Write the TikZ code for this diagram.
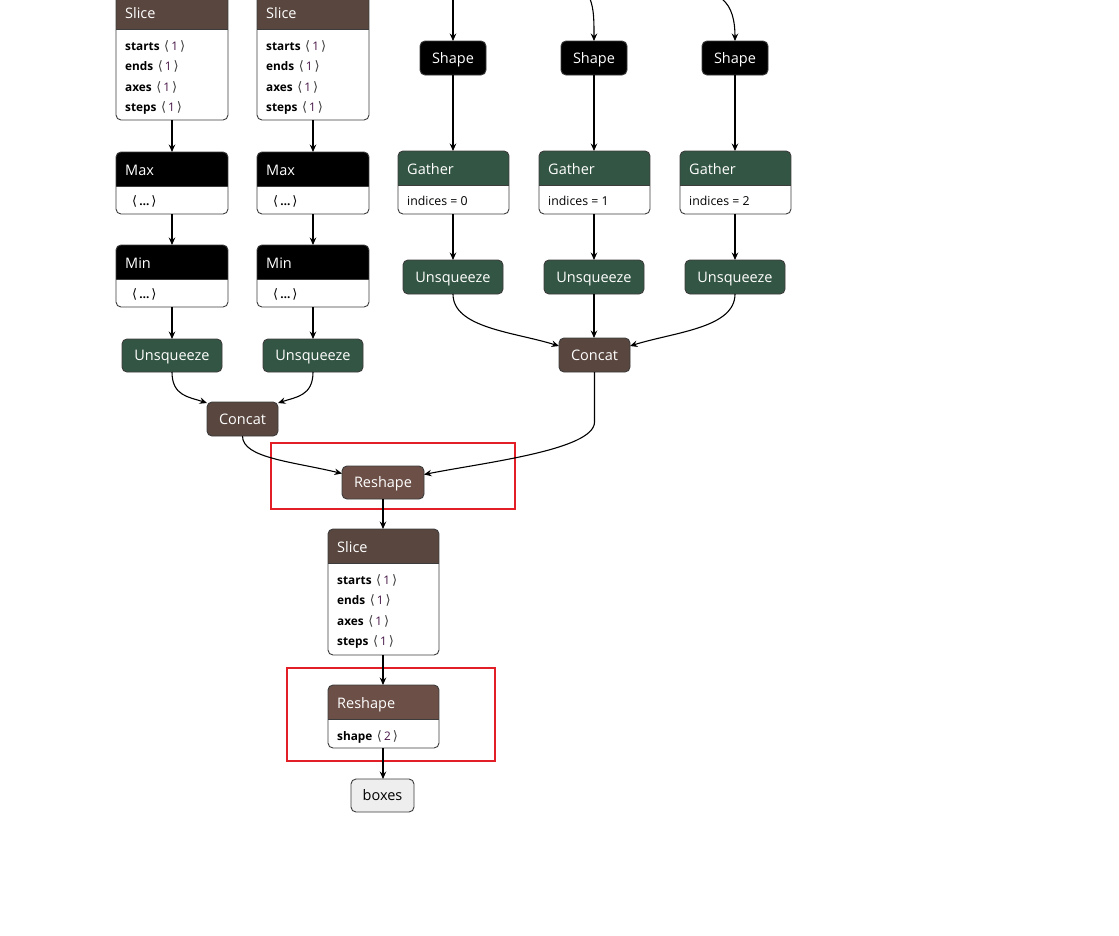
\documentclass[tikz,border=0pt]{standalone}
\usepackage{fontspec}
\setmainfont{Open Sans}
\newfontfamily\symf{DejaVu Sans}
\usetikzlibrary{arrows.meta,calc}
\definecolor{brownA}{RGB}{89,70,63}
\definecolor{brownB}{RGB}{108,79,71}
\definecolor{greenA}{RGB}{51,85,68}
\definecolor{frameC}{RGB}{60,60,60}
\definecolor{redbox}{RGB}{226,30,38}
\definecolor{valc}{RGB}{70,20,70}
\definecolor{boxesfill}{RGB}{238,238,238}
\tikzset{
  opframe/.style={fill=white,draw=none,inner sep=0pt,outer sep=0pt},
  opborder/.style={draw=frameC,line width=0.9pt,rounded corners=5pt},
  optitle/.style={anchor=base west,inner sep=0pt,text=white,font=\fontsize{14.5}{16}\selectfont},
  attr/.style={anchor=base west,inner sep=0pt,font=\fontsize{11.8}{13}\selectfont},
  simple/.style={draw=frameC,line width=0.9pt,rounded corners=5pt,inner sep=0pt,outer sep=0pt,text=white,font=\fontsize{14.5}{16}\selectfont,text height=10.4pt,text depth=0pt},
  conn/.style={draw=black,line width=1.1pt,-{Stealth[length=7.5pt,width=6.5pt,inset=2.5pt]}},
  hilite/.style={draw=redbox,line width=1.5pt}
}
\newcommand\mkop[8]{%
  \node[opframe, minimum width=#4, minimum height=#5] (#1) at (#2,#3) {};
  \begin{scope}
    \clip[rounded corners=5pt] (#1.north west) rectangle (#1.south east);
    \fill[#7] (#1.north west) rectangle ($(#1.north east)+(0,#6)$);
  \end{scope}
  \draw[frameC, line width=0.8pt] ($(#1.north west)+(0,#6)$) -- ($(#1.north east)+(0,#6)$);
  \draw[opborder] (#1.north west) rectangle (#1.south east);
  \node[optitle] at ($(#1.north west)+(9,23.5)$) {#8};
}
\newcommand\va[1]{\hspace{1.5pt}{\symf\fontsize{13}{13}\selectfont\color{frameC}⟨}\hspace{2pt}{\color{valc}#1}\hspace{2pt}{\symf\fontsize{13}{13}\selectfont\color{frameC}⟩}}
\newcommand\slicerows[1]{%
  \node[attr] at ($(#1.north west)+(9,55)$) {\textbf{starts} \va{1}};
  \node[attr] at ($(#1.north west)+(9,75.5)$) {\textbf{ends} \va{1}};
  \node[attr] at ($(#1.north west)+(9,96)$) {\textbf{axes} \va{1}};
  \node[attr] at ($(#1.north west)+(9,116.5)$) {\textbf{steps} \va{1}};
}
\newcommand\dotsrow[1]{\node[attr] at ($(#1.north west)+(16,53)$) {{\symf\fontsize{13}{13}\selectfont ⟨}\hspace{2pt}\textbf{…}\hspace{2pt}{\symf\fontsize{13}{13}\selectfont ⟩}};}
\begin{document}
\begin{tikzpicture}[x=1pt,y=-1pt]
\useasboundingbox[fill=white] (0,0) rectangle (1119,935);

% left two columns
\mkop{sliceA}{172}{57.5}{112}{125}{34}{brownA}{Slice}
\slicerows{sliceA}
\mkop{sliceB}{313}{57.5}{112}{125}{34}{brownA}{Slice}
\slicerows{sliceB}
\mkop{maxA}{172}{183}{112}{62}{34}{black}{Max}
\dotsrow{maxA}
\mkop{maxB}{313}{183}{112}{62}{34}{black}{Max}
\dotsrow{maxB}
\mkop{minA}{172}{276}{112}{62}{34}{black}{Min}
\dotsrow{minA}
\mkop{minB}{313}{276}{112}{62}{34}{black}{Min}
\dotsrow{minB}
\node[simple,fill=greenA,minimum width=100,minimum height=33] (unsqA) at (172,355.5) {Unsqueeze};
\node[simple,fill=greenA,minimum width=100,minimum height=33] (unsqB) at (313,355.5) {Unsqueeze};
\node[simple,fill=brownA,minimum width=71,minimum height=34] (concatL) at (242.5,419) {Concat};

% right three columns
\coordinate (inA) at (453,0);
\coordinate (inB) at (590,-1);
\coordinate (inC) at (722,-1);
\node[simple,fill=black,minimum width=66,minimum height=34] (shapeA) at (453,58) {Shape};
\node[simple,fill=black,minimum width=66,minimum height=34] (shapeB) at (594,58) {Shape};
\node[simple,fill=black,minimum width=66,minimum height=34] (shapeC) at (735,58) {Shape};
\mkop{gatherA}{453.5}{182.5}{111}{63}{34}{greenA}{Gather}
\node[attr,font=\fontsize{12.3}{13}\selectfont] at ($(gatherA.north west)+(9,54)$) {indices = 0};
\mkop{gatherB}{594.5}{182.5}{111}{63}{34}{greenA}{Gather}
\node[attr,font=\fontsize{12.3}{13}\selectfont] at ($(gatherB.north west)+(9,54)$) {indices = 1};
\mkop{gatherC}{735.5}{182.5}{111}{63}{34}{greenA}{Gather}
\node[attr,font=\fontsize{12.3}{13}\selectfont] at ($(gatherC.north west)+(9,54)$) {indices = 2};
\node[simple,fill=greenA,minimum width=100,minimum height=34] (unsqC) at (453,277) {Unsqueeze};
\node[simple,fill=greenA,minimum width=100,minimum height=34] (unsqD) at (594,277) {Unsqueeze};
\node[simple,fill=greenA,minimum width=100,minimum height=34] (unsqE) at (735,277) {Unsqueeze};
\node[simple,fill=brownA,minimum width=71,minimum height=34] (concatR) at (594.5,355) {Concat};

% bottom chain
\node[simple,fill=brownB,minimum width=82,minimum height=33] (reshA) at (383,482.5) {Reshape};
\mkop{sliceC}{383.5}{592}{111}{126}{34}{brownA}{Slice}
\slicerows{sliceC}
\mkop{reshB}{383.5}{716.5}{111}{63}{34}{brownB}{Reshape}
\node[attr] at ($(reshB.north west)+(9,55)$) {\textbf{shape} \va{2}};
\node[simple,fill=boxesfill,text=black,minimum width=63,minimum height=33] (boxes) at (382.5,795.5) {boxes};

% highlight boxes
\draw[hilite] (271,443) rectangle (515,509);
\draw[hilite] (287,668) rectangle (495,761);

% connectors left
\draw[conn] (sliceA.south) -- (maxA.north);
\draw[conn] (sliceB.south) -- (maxB.north);
\draw[conn] (maxA.south) -- (minA.north);
\draw[conn] (maxB.south) -- (minB.north);
\draw[conn] (minA.south) -- (unsqA.north);
\draw[conn] (minB.south) -- (unsqB.north);
\draw[conn] (unsqA.south) .. controls +(0,24) and +(-18,-6) .. ($(concatL.north west)+(0,1)$);
\draw[conn] (unsqB.south) .. controls +(0,24) and +(18,-6) .. ($(concatL.north east)+(0,1)$);
\draw[conn] (concatL.south) .. controls +(0,22) and +(-50,-12) .. ($(reshA.west)+(0,-9)$);

% connectors right
\draw[conn] (inA) -- (shapeA.north);
\draw[conn] (inB) .. controls +(4,10) and +(0,-20) .. (shapeB.north);
\draw[conn] (inC) .. controls +(10,8) and +(0,-20) .. (shapeC.north);
\draw[conn] (shapeA.south) -- (gatherA.north -| shapeA.south);
\draw[conn] (shapeB.south) -- (gatherB.north -| shapeB.south);
\draw[conn] (shapeC.south) -- (gatherC.north -| shapeC.south);
\draw[conn] (gatherA.south -| unsqC.north) -- (unsqC.north);
\draw[conn] (gatherB.south -| unsqD.north) -- (unsqD.north);
\draw[conn] (gatherC.south -| unsqE.north) -- (unsqE.north);
\draw[conn] (unsqC.south) .. controls +(0,34) and +(-45,-14) .. ($(concatR.west)+(0,-9)$);
\draw[conn] (unsqD.south) -- (concatR.north -| unsqD.south);
\draw[conn] (unsqE.south) .. controls +(0,34) and +(45,-14) .. ($(concatR.east)+(0,-9)$);
\draw[conn] (concatR.south) -- ++(0,50) .. controls +(0,28) and +(60,-12) .. ($(reshA.east)+(0,-8)$);

% connectors bottom
\draw[conn] (reshA.south) -- (sliceC.north -| reshA.south);
\draw[conn] (sliceC.south -| reshA.south) -- (reshB.north -| reshA.south);
\draw[conn] (reshB.south -| reshA.south) -- (boxes.north -| reshA.south);
\end{tikzpicture}
\end{document}
